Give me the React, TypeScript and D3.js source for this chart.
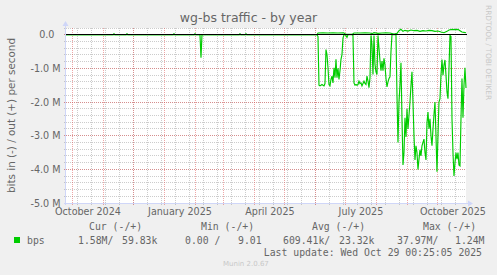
import React from 'react';
import * as d3 from 'd3';

const W = 497;
const H = 275;

const title = 'wg-bs traffic - by year';
const yAxisTitle = 'bits in (-) / out (+) per second';
const watermark = 'RRDTOOL / TOBI OETIKER';
const footer = 'Munin 2.0.67';
const lastUpdate = 'Last update: Wed Oct 29 00:25:05 2025';

const rangeStart = '2024-09-24T00:25:05';
const rangeEnd = '2025-10-29T00:25:05';

const yTickValues = [0, -1e6, -2e6, -3e6, -4e6, -5e6];
const yTickLabels = ['0.0\u2007', '-1.0 M', '-2.0 M', '-3.0 M', '-4.0 M', '-5.0 M'];
const xLabelMonths = ['2024-10-01', '2025-01-01', '2025-04-01', '2025-07-01', '2025-10-01'];

const seriesName = 'bps';
const legendHeaders = ['Cur (-/+)', 'Min (-/+)', 'Avg (-/+)', 'Max (-/+)'];
const legendValues = ['1.58M/', '59.83k', '0.00 /', '9.01', '609.41k/', '23.32k', '37.97M/', '1.24M'];

// "in" traffic in Mbit/s (drawn negative)
const inSeries: [string, number][] = [
  ['2024-09-24', 0], ['2025-02-05', 0], ['2025-02-06', 0.68], ['2025-02-07', 0],
  ['2025-06-02', 0], ['2025-06-03', 0.05], ['2025-06-04', 1.5], ['2025-06-05', 1.52],
  ['2025-06-06', 1.5], ['2025-06-07', 1.48], ['2025-06-08', 1.5], ['2025-06-09', 1.52],
  ['2025-06-10', 1.45], ['2025-06-11', 0.44], ['2025-06-12', 0.59], ['2025-06-13', 0.98],
  ['2025-06-14', 1.48], ['2025-06-15', 1.52], ['2025-06-16', 1.33], ['2025-06-17', 1.23],
  ['2025-06-18', 1.43], ['2025-06-19', 0.98], ['2025-06-20', 1.28], ['2025-06-21', 0.73],
  ['2025-06-22', 1.28], ['2025-06-23', 1.0], ['2025-06-24', 1.33], ['2025-06-25', 1.07],
  ['2025-06-26', 0.73], ['2025-06-27', 0.59], ['2025-06-28', 0.1], ['2025-06-29', 0],
  ['2025-06-30', 0], ['2025-07-01', 0.02], ['2025-07-02', 0.08], ['2025-07-03', 0],
  ['2025-07-07', 0], ['2025-07-08', 0.02], ['2025-07-09', 1.43], ['2025-07-10', 1.5],
  ['2025-07-11', 1.48], ['2025-07-12', 1.5], ['2025-07-13', 1.48], ['2025-07-14', 1.38],
  ['2025-07-15', 1.45], ['2025-07-16', 1.43], ['2025-07-17', 1.52], ['2025-07-18', 1.45],
  ['2025-07-19', 1.38], ['2025-07-20', 1.45], ['2025-07-21', 1.48], ['2025-07-22', 1.23],
  ['2025-07-23', 1.38], ['2025-07-24', 1.57], ['2025-07-25', 1.28], ['2025-07-26', 0.02],
  ['2025-07-27', 0.3], ['2025-07-28', 1.18], ['2025-07-29', 0.02], ['2025-07-30', 0.88],
  ['2025-07-31', 1.1], ['2025-08-01', 1.18], ['2025-08-02', 0.02], ['2025-08-03', 0.4],
  ['2025-08-04', 0.78], ['2025-08-05', 1.07], ['2025-08-06', 0.78], ['2025-08-07', 1.07],
  ['2025-08-08', 0.7], ['2025-08-09', 0.9], ['2025-08-10', 1.3], ['2025-08-11', 1.55],
  ['2025-08-12', 1.4], ['2025-08-13', 1.3], ['2025-08-14', 1.25], ['2025-08-15', 0.5],
  ['2025-08-16', 0], ['2025-08-20', 0], ['2025-08-21', 1.8], ['2025-08-22', 3.2],
  ['2025-08-23', 2.0], ['2025-08-24', 1.5], ['2025-08-25', 0.83], ['2025-08-26', 2.5],
  ['2025-08-27', 3.87], ['2025-08-28', 3.5], ['2025-08-29', 2.47], ['2025-08-30', 3.04],
  ['2025-08-31', 2.2], ['2025-09-01', 2.8], ['2025-09-02', 2.4], ['2025-09-03', 2.0],
  ['2025-09-04', 1.5], ['2025-09-05', 1.1], ['2025-09-06', 2.0], ['2025-09-07', 3.0],
  ['2025-09-08', 3.72], ['2025-09-09', 3.3], ['2025-09-10', 3.5], ['2025-09-11', 4.0],
  ['2025-09-12', 3.7], ['2025-09-13', 3.42], ['2025-09-14', 3.6], ['2025-09-15', 3.3],
  ['2025-09-16', 3.2], ['2025-09-17', 3.1], ['2025-09-18', 3.5], ['2025-09-19', 3.72],
  ['2025-09-20', 2.62], ['2025-09-21', 2.3], ['2025-09-22', 2.8], ['2025-09-23', 2.5],
  ['2025-09-24', 3.0], ['2025-09-25', 3.3], ['2025-09-26', 2.8], ['2025-09-27', 2.37],
  ['2025-09-28', 2.0], ['2025-09-29', 3.0], ['2025-09-30', 4.07], ['2025-10-01', 3.0],
  ['2025-10-02', 2.0], ['2025-10-03', 1.9], ['2025-10-04', 1.2], ['2025-10-05', 0.74],
  ['2025-10-06', 1.2], ['2025-10-07', 0.9], ['2025-10-08', 0.75], ['2025-10-09', 1.2],
  ['2025-10-10', 1.7], ['2025-10-11', 1.9], ['2025-10-12', 1.0], ['2025-10-13', 0.02],
  ['2025-10-14', 0.05], ['2025-10-15', 2.5], ['2025-10-16', 3.5], ['2025-10-17', 4.2],
  ['2025-10-18', 3.8], ['2025-10-19', 3.5], ['2025-10-20', 3.7], ['2025-10-21', 3.5],
  ['2025-10-22', 3.87], ['2025-10-23', 3.9], ['2025-10-24', 2.5], ['2025-10-25', 1.3],
  ['2025-10-26', 2.47], ['2025-10-27', 1.5], ['2025-10-28', 0.98], ['2025-10-29', 1.58],
];

// "out" traffic in Mbit/s (drawn positive)
const outSeries: [string, number][] = [
  ['2024-09-24', 0], ['2024-11-10', 0], ['2024-11-11', 0.03], ['2024-11-12', 0],
  ['2024-11-23', 0], ['2024-11-24', 0.03], ['2024-11-25', 0], ['2025-01-09', 0],
  ['2025-01-10', 0.03], ['2025-01-11', 0], ['2025-01-30', 0], ['2025-01-31', 0.03],
  ['2025-02-01', 0], ['2025-03-16', 0], ['2025-03-17', 0.03], ['2025-03-18', 0],
  ['2025-03-22', 0], ['2025-03-23', 0.03], ['2025-03-24', 0], ['2025-06-02', 0],
  ['2025-06-03', 0.05], ['2025-06-08', 0.06], ['2025-06-13', 0.05], ['2025-06-18', 0.06],
  ['2025-06-23', 0.05], ['2025-06-28', 0.06], ['2025-06-29', 0.05], ['2025-07-01', 0.01],
  ['2025-07-07', 0.01], ['2025-07-09', 0.05], ['2025-07-15', 0.05], ['2025-07-20', 0.06],
  ['2025-07-25', 0.05], ['2025-07-27', 0.03], ['2025-07-29', 0.06], ['2025-08-02', 0.04],
  ['2025-08-06', 0.05], ['2025-08-10', 0.06], ['2025-08-14', 0.05], ['2025-08-18', 0.02],
  ['2025-08-21', 0.04], ['2025-08-23', 0.12], ['2025-08-25', 0.16], ['2025-08-27', 0.1],
  ['2025-08-29', 0.13], ['2025-09-01', 0.11], ['2025-09-04', 0.14], ['2025-09-07', 0.12],
  ['2025-09-10', 0.13], ['2025-09-13', 0.1], ['2025-09-16', 0.12], ['2025-09-19', 0.11],
  ['2025-09-22', 0.13], ['2025-09-25', 0.12], ['2025-09-28', 0.1], ['2025-10-01', 0.11],
  ['2025-10-04', 0.08], ['2025-10-07', 0.06], ['2025-10-10', 0.1], ['2025-10-12', 0.14],
  ['2025-10-15', 0.16], ['2025-10-18', 0.15], ['2025-10-21', 0.16], ['2025-10-23', 0.12],
  ['2025-10-25', 0.08], ['2025-10-27', 0.07], ['2025-10-29', 0.06],
];

const SANS = 'DejaVu Sans, sans-serif';
const MONO = 'DejaVu Sans Mono, monospace';
const FONT_COLOR = '#666666';
const LINE_COLOR = '#00CC00';
const AXIS_COLOR = '#CFD6F8';

export default function App() {
  const plotLeft = 66;
  const plotRight = 466;
  const plotTop = 28;
  const plotBottom = 203;

  const parse = (s: string) => new Date(s.length > 10 ? s : s + 'T00:00:00');
  const t0 = parse(rangeStart);
  const t1 = parse(rangeEnd);

  const x = d3.scaleTime().domain([t0, t1]).range([plotLeft, plotRight]);
  const y = d3.scaleLinear().domain([-5e6, 0.2e6]).range([plotBottom, plotTop]);

  const px = (v: number) => Math.floor(v) + 0.5;

  const minorY = d3.range(-25, 2).map((i) => i * 0.2e6);
  const majorY = yTickValues;
  const majorX = d3.timeMonth.range(d3.timeMonth.ceil(t0), t1);
  const minorX = d3.timeSunday.range(new Date(2024, 9, 6), t1, 2);

  const inLine = d3
    .line<[string, number]>()
    .x((d) => x(parse(d[0])))
    .y((d) => y(-d[1] * 1e6));
  const outLine = d3
    .line<[string, number]>()
    .x((d) => x(parse(d[0])))
    .y((d) => y(d[1] * 1e6));

  const axisX = px(plotLeft - 0.5);
  const axisY = px(plotBottom);

  const legendHeaderX = [89, 201, 312, 423];
  const legendValueX = [78, 122, 185, 238, 283, 339, 397, 455];

  return (
    <svg width={W} height={H} style={{ display: 'block', position: 'absolute', left: 0, top: 0 }}>
      <rect x={0} y={0} width={W} height={H} fill="#F0F0F0" />
      <rect x={plotLeft} y={plotTop} width={plotRight - plotLeft} height={plotBottom - plotTop} fill="#FFFFFF" />

      {/* minor grid */}
      <g stroke="rgba(143,143,143,0.45)" strokeWidth={1} strokeDasharray="1,1" shapeRendering="crispEdges">
        {minorY.map((v) => (
          <line key={'my' + v} x1={plotLeft - 2} x2={plotRight} y1={px(y(v))} y2={px(y(v))} />
        ))}
        {minorX.map((d) => (
          <line key={'mx' + d.getTime()} x1={px(x(d))} x2={px(x(d))} y1={plotTop} y2={plotBottom + 2} />
        ))}
      </g>
      {/* major grid */}
      <g stroke="rgba(222,79,79,0.5)" strokeWidth={1} strokeDasharray="1,1" shapeRendering="crispEdges">
        {majorY.map((v) => (
          <line key={'My' + v} x1={plotLeft - 2} x2={plotRight} y1={px(y(v))} y2={px(y(v))} />
        ))}
        {majorX.map((d) => (
          <line key={'Mx' + d.getTime()} x1={px(x(d))} x2={px(x(d))} y1={plotTop} y2={plotBottom + 2} />
        ))}
      </g>

      {/* axes */}
      <g stroke={AXIS_COLOR} strokeWidth={1} shapeRendering="crispEdges">
        <line x1={axisX} x2={axisX} y1={plotBottom + 2} y2={plotTop - 4} />
        <line x1={plotLeft - 2} x2={plotRight + 3} y1={axisY} y2={axisY} />
      </g>
      <path
        d={`M${axisX - 3},${plotTop - 2}L${axisX + 3},${plotTop - 2}L${axisX},${plotTop - 7}Z`}
        fill={AXIS_COLOR}
      />
      <path
        d={`M${plotRight + 2},${axisY - 3}L${plotRight + 2},${axisY + 3}L${plotRight + 7},${axisY}Z`}
        fill={AXIS_COLOR}
      />

      {/* data */}
      <path d={inLine(inSeries) ?? ''} fill="none" stroke={LINE_COLOR} strokeWidth={1.15} />
      <path d={outLine(outSeries) ?? ''} fill="none" stroke={LINE_COLOR} strokeWidth={1.15} />

      {/* zero rule */}
      <line x1={plotLeft} x2={plotRight + 1} y1={px(y(0))} y2={px(y(0))} stroke="#000000" strokeWidth={1} shapeRendering="crispEdges" />

      {/* y tick labels */}
      <g fontFamily={SANS} fontSize={9.6} fill={FONT_COLOR} textAnchor="end" style={{ whiteSpace: 'pre' }}>
        {yTickValues.map((v, i) => (
          <text key={'yl' + v} x={60.5} y={y(v) + 3.5}>
            {yTickLabels[i]}
          </text>
        ))}
      </g>

      {/* x labels */}
      <g fontFamily={SANS} fontSize={9.6} fill={FONT_COLOR} textAnchor="middle">
        {xLabelMonths.map((m) => {
          const d = parse(m);
          return (
            <text key={m} x={x(d3.timeDay.offset(d, 15))} y={214.5}>
              {d3.timeFormat('%B %Y')(d)}
            </text>
          );
        })}
      </g>

      {/* title */}
      <text x={248.5} y={22} textAnchor="middle" fontFamily={SANS} fontSize={12.5} fill={FONT_COLOR}>
        {title}
      </text>

      {/* y axis title */}
      <text
        transform={`translate(15,${(plotTop + plotBottom) / 2}) rotate(-90)`}
        textAnchor="middle"
        fontFamily={SANS}
        fontSize={10.4}
        fill={FONT_COLOR}
      >
        {yAxisTitle}
      </text>

      {/* watermark */}
      <text transform="translate(486,5) rotate(90)" fontFamily={SANS} fontSize={7.4} fill="#C8C8C8">
        {watermark}
      </text>

      {/* legend */}
      <g fontFamily={MONO} fontSize={9.8} fill={FONT_COLOR} style={{ whiteSpace: 'pre' }}>
        {legendHeaders.map((h, i) => (
          <text key={h} x={legendHeaderX[i]} y={230}>
            {h}
          </text>
        ))}
        <rect x={14} y={237} width={6} height={6} fill={LINE_COLOR} />
        <text x={27} y={243.5}>{seriesName}</text>
        {legendValues.map((v, i) => (
          <text key={'lv' + i} x={legendValueX[i]} y={243.5}>
            {v}
          </text>
        ))}
        <text x={482} y={256} textAnchor="end">
          {lastUpdate}
        </text>
      </g>

      <text x={223} y={266} fontFamily={SANS} fontSize={7} fill="#C8C8C8">
        {footer}
      </text>
    </svg>
  );
}
